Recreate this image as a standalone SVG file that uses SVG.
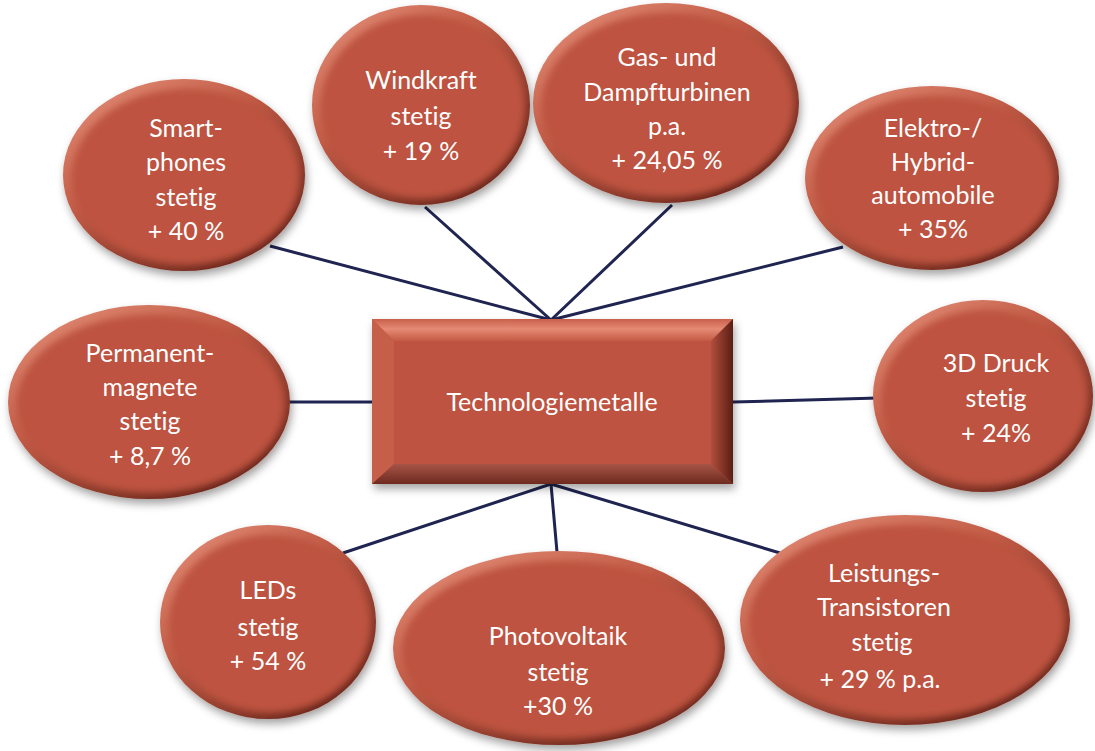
<svg xmlns="http://www.w3.org/2000/svg" width="1095" height="751" viewBox="0 0 1095 751">
<defs>
<linearGradient id="rim" x1="0" y1="0" x2="0.8" y2="1">
<stop offset="0" stop-color="#e9957f"/>
<stop offset="0.45" stop-color="#c05a45"/>
<stop offset="1" stop-color="#5e1f15"/>
</linearGradient>
<filter id="shadow" x="-20%" y="-20%" width="140%" height="150%">
<feDropShadow dx="2" dy="5" stdDeviation="4" flood-color="#000" flood-opacity="0.35"/>
</filter>
<filter id="soft" x="-10%" y="-10%" width="120%" height="120%">
<feGaussianBlur stdDeviation="3.5"/>
</filter>
<linearGradient id="topbevel" x1="0" y1="0" x2="0" y2="1">
<stop offset="0" stop-color="#c9604b"/>
<stop offset="0.45" stop-color="#e58a74"/>
<stop offset="1" stop-color="#c45a45"/>
</linearGradient>
<linearGradient id="rightbevel" x1="0" y1="0" x2="1" y2="0">
<stop offset="0" stop-color="#b24e3c"/>
<stop offset="1" stop-color="#5a1e14"/>
</linearGradient>
<linearGradient id="botbevel" x1="0" y1="0" x2="0" y2="1">
<stop offset="0" stop-color="#a65446"/>
<stop offset="1" stop-color="#6e2a1f"/>
</linearGradient>
</defs>
<style>
.conn{stroke:#1f2450;stroke-width:3;fill:none}
.body{fill:#bd5340}
.t{font-family:Lato,"Open Sans","Liberation Sans",sans-serif;font-size:25px;fill:#ffffff;text-anchor:middle;font-variant-ligatures:none}
</style>
<rect width="1095" height="751" fill="#ffffff"/>
<g id="connectors">
<line class="conn" x1="551" y1="320" x2="270" y2="246"/>
<line class="conn" x1="551" y1="320" x2="425" y2="207"/>
<line class="conn" x1="551" y1="320" x2="672" y2="205"/>
<line class="conn" x1="551" y1="320" x2="843" y2="247"/>
<line class="conn" x1="287" y1="402" x2="372" y2="402"/>
<line class="conn" x1="733" y1="402" x2="878" y2="398"/>
<line class="conn" x1="551" y1="484" x2="343" y2="553"/>
<line class="conn" x1="551" y1="484" x2="557" y2="552"/>
<line class="conn" x1="551" y1="484" x2="780" y2="553"/>
</g>
<g id="center">
<g filter="url(#shadow)">
<rect x="372" y="319" width="361" height="165" fill="#bd5340"/>
</g>
<polygon points="372,319 733,319 711,341 394,341" fill="url(#topbevel)"/>
<polygon points="372,319 394,341 394,464 372,484" fill="#c65f4a"/>
<polygon points="733,319 733,484 711,464 711,341" fill="url(#rightbevel)"/>
<polygon points="372,484 394,464 711,464 733,484" fill="url(#botbevel)"/>
<rect x="394" y="341" width="317" height="123" fill="#bd5340"/>
<text class="t" x="552" y="411">Technologiemetalle</text>
</g>
<g id="smartphones">
<ellipse cx="184" cy="175" rx="121" ry="96" fill="url(#rim)" filter="url(#shadow)"/>
<ellipse class="body" cx="186" cy="177" rx="114" ry="88" filter="url(#soft)"/>
<text class="t" x="186" y="137">Smart-</text>
<text class="t" x="186" y="171">phones</text>
<text class="t" x="186" y="206">stetig</text>
<text class="t" x="186" y="240">+ 40 %</text>
</g>
<g id="windkraft">
<ellipse cx="421" cy="105" rx="109" ry="100" fill="url(#rim)" filter="url(#shadow)"/>
<ellipse class="body" cx="423" cy="107" rx="102" ry="92" filter="url(#soft)"/>
<text class="t" x="421" y="89">Windkraft</text>
<text class="t" x="421" y="125">stetig</text>
<text class="t" x="421" y="160">+ 19 %</text>
</g>
<g id="gasturbinen">
<ellipse cx="666" cy="103" rx="133" ry="100" fill="url(#rim)" filter="url(#shadow)"/>
<ellipse class="body" cx="668" cy="105" rx="126" ry="92" filter="url(#soft)"/>
<text class="t" x="667" y="66">Gas- und</text>
<text class="t" x="667" y="101">Dampfturbinen</text>
<text class="t" x="667" y="135">p.a.</text>
<text class="t" x="667" y="169">+ 24,05 %</text>
</g>
<g id="elektro">
<ellipse cx="932" cy="178" rx="127" ry="92" fill="url(#rim)" filter="url(#shadow)"/>
<ellipse class="body" cx="934" cy="180" rx="120" ry="84" filter="url(#soft)"/>
<text class="t" x="933" y="137">Elektro-/</text>
<text class="t" x="933" y="171">Hybrid-</text>
<text class="t" x="933" y="204">automobile</text>
<text class="t" x="933" y="238">+ 35%</text>
</g>
<g id="permanentmagnete">
<ellipse cx="149" cy="402" rx="141" ry="97" fill="url(#rim)" filter="url(#shadow)"/>
<ellipse class="body" cx="151" cy="404" rx="134" ry="89" filter="url(#soft)"/>
<text class="t" x="150" y="362">Permanent-</text>
<text class="t" x="150" y="396">magnete</text>
<text class="t" x="150" y="430">stetig</text>
<text class="t" x="150" y="465">+ 8,7 %</text>
</g>
<g id="druck3d">
<ellipse cx="983" cy="396" rx="110" ry="96" fill="url(#rim)" filter="url(#shadow)"/>
<ellipse class="body" cx="985" cy="398" rx="103" ry="88" filter="url(#soft)"/>
<text class="t" x="996" y="372">3D Druck</text>
<text class="t" x="996" y="407">stetig</text>
<text class="t" x="996" y="442">+ 24%</text>
</g>
<g id="leds">
<ellipse cx="268" cy="622" rx="108" ry="97" fill="url(#rim)" filter="url(#shadow)"/>
<ellipse class="body" cx="270" cy="624" rx="101" ry="89" filter="url(#soft)"/>
<text class="t" x="268" y="599">LEDs</text>
<text class="t" x="268" y="636">stetig</text>
<text class="t" x="268" y="670">+ 54 %</text>
</g>
<g id="photovoltaik">
<ellipse cx="559" cy="648" rx="166" ry="97" fill="url(#rim)" filter="url(#shadow)"/>
<ellipse class="body" cx="561" cy="650" rx="159" ry="89" filter="url(#soft)"/>
<text class="t" x="558" y="645">Photovoltaik</text>
<text class="t" x="558" y="681">stetig</text>
<text class="t" x="558" y="715">+30 %</text>
</g>
<g id="leistungstransistoren">
<ellipse cx="905" cy="620" rx="165" ry="105" fill="url(#rim)" filter="url(#shadow)"/>
<ellipse class="body" cx="907" cy="622" rx="158" ry="97" filter="url(#soft)"/>
<text class="t" x="884" y="582">Leistungs-</text>
<text class="t" x="884" y="616">Transistoren</text>
<text class="t" x="882" y="651">stetig</text>
<text class="t" x="880" y="688">+ 29 % p.a.</text>
</g>
</svg>
